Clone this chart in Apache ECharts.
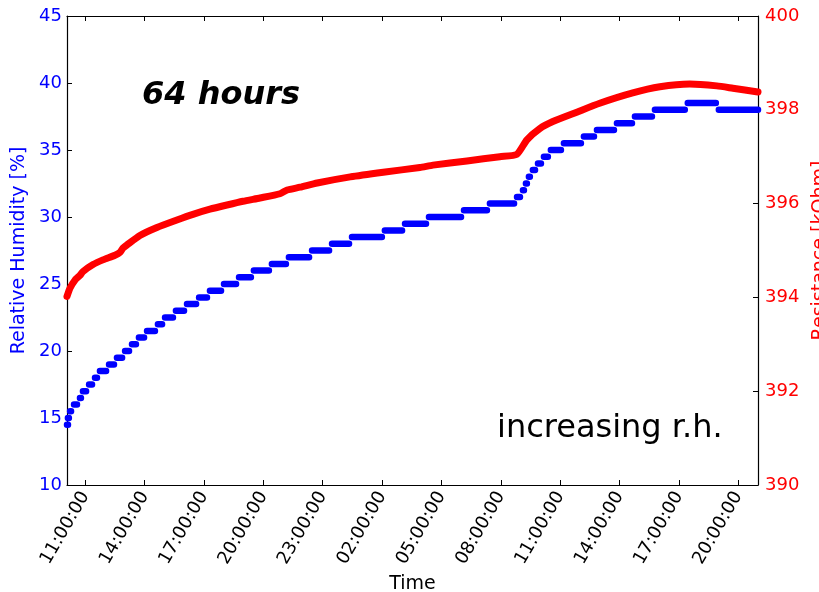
<!DOCTYPE html>
<html>
<head>
<meta charset="utf-8">
<script src="https://cdn.jsdelivr.net/npm/echarts@6/dist/echarts.min.js"></script>
<style>
html,body{margin:0;padding:0;background:#fff;}
#chart{width:819px;height:592px;}
</style>
</head>
<body>
<div id="chart"></div>
<script>
// Time in hours since midnight of the first day
const xTickHours = [11, 14, 17, 20, 23, 26, 29, 32, 35, 38, 41, 44];
const leftTicks = [10, 15, 20, 25, 30, 35, 40, 45];
const rightTicks = [390, 392, 394, 396, 398, 400];

// Relative humidity: start time of each step and the step level [%]
const rhStepTime = [10.075, 10.12, 10.23, 10.43, 10.73, 10.88, 11.19, 11.49, 11.74, 12.20,
  12.60, 13.01, 13.36, 13.71, 14.12, 14.67, 15.03, 15.58, 16.14, 16.75,
  17.30, 18.01, 18.77, 19.52, 20.43, 21.29, 22.46, 23.47, 24.48, 26.14,
  27.16, 28.37, 30.14, 31.45, 32.82, 33.12, 33.27, 33.42, 33.62, 33.88,
  34.18, 34.53, 35.19, 36.20, 36.86, 37.87, 38.78, 39.79, 41.45, 43.02];
const rhStepLevel = [14.5, 15.0, 15.5, 16.0, 16.5, 17.0, 17.5, 18.0, 18.5, 19.0,
  19.5, 20.0, 20.5, 21.0, 21.5, 22.0, 22.5, 23.0, 23.5, 24.0,
  24.5, 25.0, 25.5, 26.0, 26.5, 27.0, 27.5, 28.0, 28.5, 29.0,
  29.5, 30.0, 30.5, 31.0, 31.5, 32.0, 32.5, 33.0, 33.5, 34.0,
  34.5, 35.0, 35.5, 36.0, 36.5, 37.0, 37.5, 38.0, 38.5, 38.0];
const rhEndTime = 45.0;

// Resistance [kOhm]
const resTime = [10.075, 10.23, 10.48, 10.73, 10.88, 11.39, 11.89, 12.50, 12.75, 12.90,
  13.11, 13.76, 14.62, 15.63, 16.44, 17.30, 18.16, 18.97, 19.83, 20.84,
  21.20, 21.86, 22.72, 24.39, 26.06, 27.91, 28.57, 30.29, 31.95, 32.81,
  33.32, 33.97, 34.63, 35.84, 37.00, 38.67, 40.04, 41.55, 42.92, 43.73, 45.0];
const resValue = [394.02, 394.20, 394.37, 394.47, 394.55, 394.70, 394.80, 394.90, 394.96, 395.05,
  395.12, 395.32, 395.49, 395.65, 395.77, 395.88, 395.97, 396.05, 396.12, 396.21,
  396.29, 396.35, 396.44, 396.57, 396.67, 396.77, 396.82, 396.91, 397.00, 397.05,
  397.36, 397.60, 397.75, 397.95, 398.14, 398.36, 398.49, 398.55, 398.51, 398.46, 398.38];

const rhData = [];
for (let i = 0; i < rhStepTime.length; i++) {
  const s = rhStepTime[i];
  const next = i + 1 < rhStepTime.length ? rhStepTime[i + 1] : rhEndTime;
  const e = i + 1 < rhStepTime.length ? Math.max(s + 0.05, next - 0.15) : next;
  rhData.push([s, rhStepLevel[i]]);
  rhData.push([e, rhStepLevel[i]]);
  rhData.push([e, '-']);
}
const resData = resTime.map((t, i) => [t, resValue[i]]);

const FONT = 'DejaVu Sans';
const chart = echarts.init(document.getElementById('chart'), null, {renderer: 'canvas'});
const xMin = 10.075, xMax = 45.0;
const axisLineStyle = {color: '#000', width: 1.2};

chart.setOption({
  animation: false,
  backgroundColor: '#fff',
  grid: {left: 67, top: 16, right: 61, bottom: 107, containLabel: false, outerBoundsMode: 'none'},
  xAxis: [{
    type: 'value', position: 'bottom', min: xMin, max: xMax,
    name: 'Time', nameLocation: 'middle', nameGap: 89,
    nameTextStyle: {color: '#000', fontSize: 19, fontFamily: FONT},
    axisLine: {show: true, onZero: false, lineStyle: axisLineStyle},
    axisTick: {show: true, inside: true, length: 5, customValues: xTickHours, lineStyle: {color: '#000'}},
    axisLabel: {
      customValues: xTickHours, rotate: 60, margin: 8,
      color: '#000', fontSize: 18, fontFamily: FONT,
      formatter: v => String(Math.round(v) % 24).padStart(2, '0') + ':00:00'
    },
    splitLine: {show: false}
  }, {
    type: 'value', position: 'top', min: xMin, max: xMax,
    axisLine: {show: true, onZero: false, lineStyle: axisLineStyle},
    axisTick: {show: true, inside: true, length: 5, customValues: xTickHours, lineStyle: {color: '#000'}},
    axisLabel: {show: false},
    splitLine: {show: false}
  }],
  yAxis: [{
    type: 'value', position: 'left', min: 10, max: 45, interval: 5,
    name: 'Relative Humidity [%]', nameLocation: 'middle', nameGap: 33, nameRotate: 90,
    nameTextStyle: {color: '#0000ff', fontSize: 19, fontFamily: FONT},
    axisLine: {show: true, onZero: false, lineStyle: axisLineStyle},
    axisTick: {show: true, inside: true, length: 5, lineStyle: {color: '#000'}},
    axisLabel: {color: '#0000ff', fontSize: 18, fontFamily: FONT, margin: 5},
    splitLine: {show: false}
  }, {
    type: 'value', position: 'right', min: 390, max: 400, interval: 2,
    name: 'Resistance [kOhm]', nameLocation: 'middle', nameGap: 42, nameRotate: 90,
    nameTextStyle: {color: '#ff0000', fontSize: 19, fontFamily: FONT},
    axisLine: {show: true, onZero: false, lineStyle: axisLineStyle},
    axisTick: {show: true, inside: true, length: 5, lineStyle: {color: '#000'}},
    axisLabel: {color: '#ff0000', fontSize: 18, fontFamily: FONT, margin: 7},
    splitLine: {show: false}
  }],
  series: [{
    name: 'Relative Humidity', type: 'line', xAxisIndex: 0, yAxisIndex: 0,
    data: rhData, showSymbol: false, connectNulls: false,
    lineStyle: {color: '#0000ff', width: 6.5, cap: 'round', join: 'round'},
    itemStyle: {color: '#0000ff'}
  }, {
    name: 'Resistance', type: 'line', xAxisIndex: 0, yAxisIndex: 1,
    data: resData, showSymbol: false, smooth: 0.2,
    lineStyle: {color: '#ff0000', width: 7, cap: 'round', join: 'round'},
    itemStyle: {color: '#ff0000'}
  }],
  graphic: [{
    type: 'text', left: 142, top: 80,
    style: {text: '64 hours', fill: '#000', font: 'italic bold 32px "DejaVu Sans"'}
  }, {
    type: 'text', left: 497, top: 413,
    style: {text: 'increasing r.h.', fill: '#000', font: '32px "DejaVu Sans"'}
  }]
});
</script>
</body>
</html>
